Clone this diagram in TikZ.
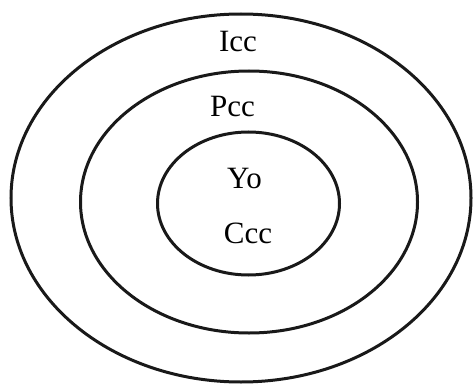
\documentclass[tikz,border=0pt]{standalone}
\usepackage{fontspec}
\setmainfont{Liberation Serif}
\usetikzlibrary{shapes.geometric}
\begin{document}
\begin{tikzpicture}[x=1pt,y=-1pt,
  ring/.style={draw=black!90, line width=3pt, ellipse, inner sep=0pt},
  lbl/.style={font=\fontsize{31}{34}\selectfont, anchor=base, inner sep=0pt}]
\useasboundingbox (0,0) rectangle (476,385);
\node[ring, minimum width=460pt, minimum height=368pt] (outer) at (241,198) {};
\node[ring, minimum width=337pt, minimum height=262pt] (middle) at (249,202) {};
\node[ring, minimum width=182pt, minimum height=143pt] (inner) at (248.5,203.5) {};
\node[lbl] (icc) at (238,52) {Icc};
\node[lbl] (pcc) at (232.5,117) {Pcc};
\node[lbl] (yo) at (244.5,188) {Yo};
\node[lbl] (ccc) at (248,243) {Ccc};
\end{tikzpicture}
\end{document}
